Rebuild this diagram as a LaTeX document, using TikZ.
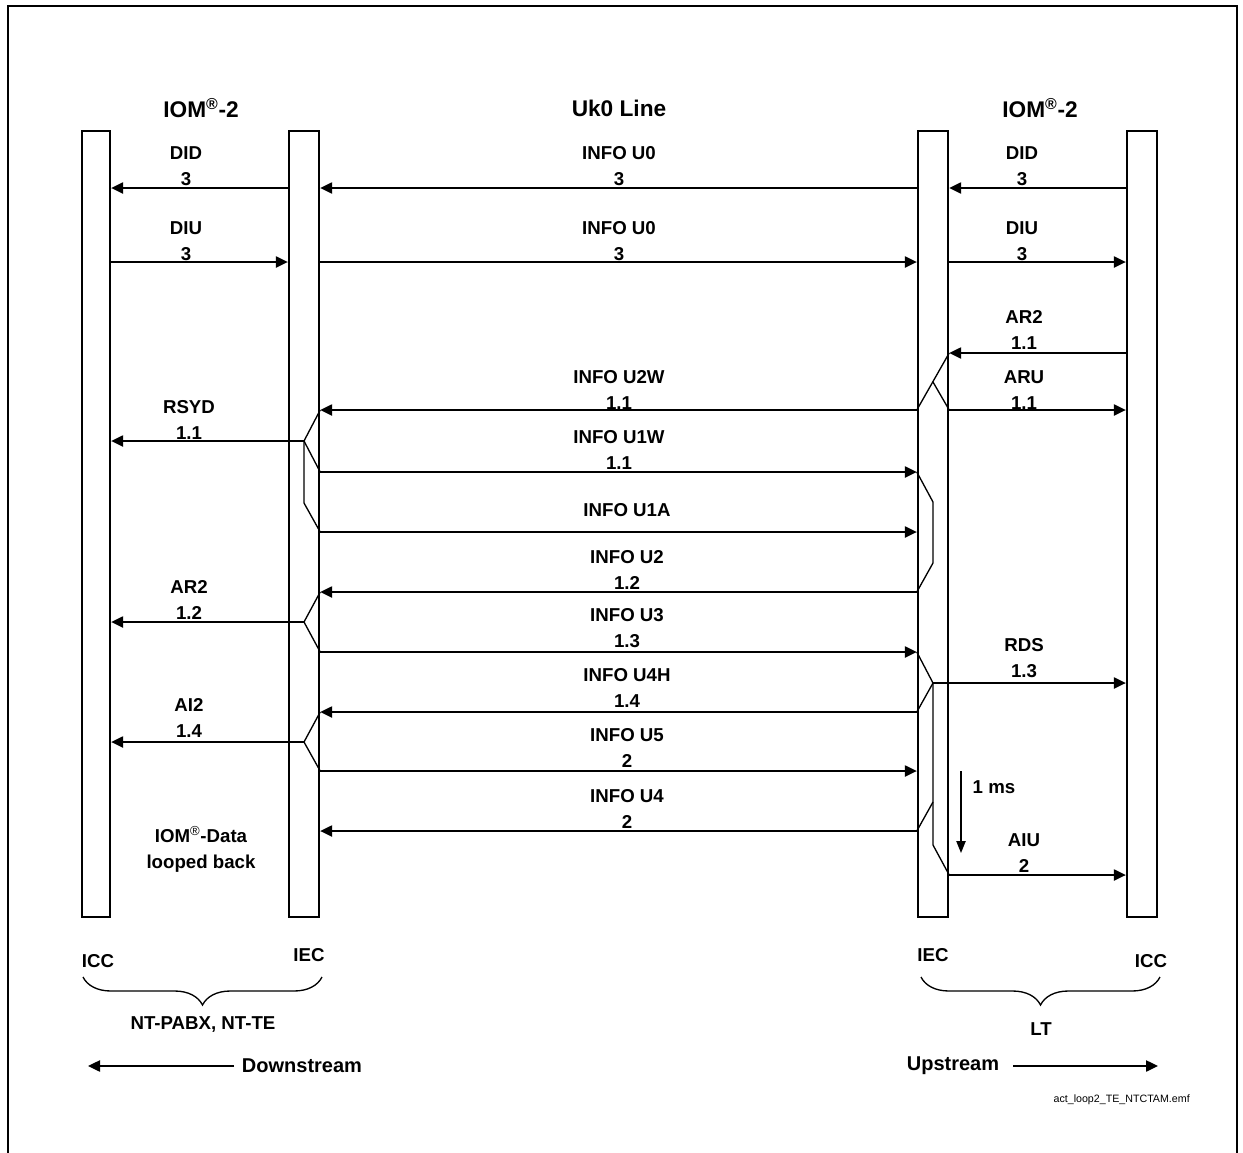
\documentclass[tikz,border=0pt]{standalone}
\usepackage{fontspec}
\setmainfont{Liberation Sans}
\usetikzlibrary{arrows.meta,decorations.pathreplacing,fit}
\begin{document}
\begin{tikzpicture}[x=0.75pt,y=-0.75pt,
  bar/.style={draw, line width=1.8pt, inner sep=0pt},
  arr/.style={line width=1pt, -{Triangle[length=9pt,width=8.5pt]}},
  ln/.style={line width=1pt},
  lbl/.style={font=\fontsize{14}{19.5}\selectfont\bfseries, align=center, inner sep=0pt},
  dir/.style={font=\fontsize{15}{18}\selectfont\bfseries, inner sep=0pt},
  hdr/.style={font=\fontsize{17}{20}\selectfont\bfseries, inner sep=0pt},
  brc/.style={line width=1pt, decorate, decoration={brace, mirror, amplitude=21pt}},
  fname/.style={font=\fontsize{8}{9}\selectfont, inner sep=0pt, anchor=east}
]
\useasboundingbox (0,0) rectangle (1243,1153);
% frame
\draw[line width=1.5pt] (8,1153) -- (8,6) -- (1237,6) -- (1237,1153);

% headers
\node[hdr] (h1) at (201,108) {IOM\textsuperscript{®}-2};
\node[hdr] (h2) at (619,108) {Uk0 Line};
\node[hdr] (h3) at (1040,108) {IOM\textsuperscript{®}-2};

% bars
\node[bar, fit={(82,131)(110,917)}] (b1) {};
\node[bar, fit={(289,131)(319,917)}] (b2) {};
\node[bar, fit={(918,131)(948,917)}] (b3) {};
\node[bar, fit={(1127,131)(1157,917)}] (b4) {};

% row 1
\draw[arr] (b2.west|-0,188) -- (b1.east|-0,188);
\draw[arr] (b3.west|-0,188) -- (b2.east|-0,188);
\draw[arr] (b4.west|-0,188) -- (b3.east|-0,188);
% row 2
\draw[arr] (b1.east|-0,262) -- (b2.west|-0,262);
\draw[arr] (b2.east|-0,262) -- (b3.west|-0,262);
\draw[arr] (b3.east|-0,262) -- (b4.west|-0,262);
% AR2 / ARU / INFO U2W
\draw[arr] (b4.west|-0,353) -- (b3.east|-0,353);
\draw[ln] (b3.east|-0,353) -- (b3.west|-0,410);
\draw[ln] (b3.center|-0,382) -- (b3.east|-0,410);
\draw[arr] (b3.west|-0,410) -- (b2.east|-0,410);
\draw[arr] (b3.east|-0,410) -- (b4.west|-0,410);
% RSYD, U1W, U1A
\draw[ln] (b2.east|-0,410) -- (b2.center|-0,441) -- (b2.east|-0,472);
\draw[ln] (b2.center|-0,441) -- (b2.center|-0,503) -- (b2.east|-0,532);
\draw[arr] (b2.center|-0,441) -- (b1.east|-0,441);
\draw[arr] (b2.east|-0,472) -- (b3.west|-0,472);
\draw[arr] (b2.east|-0,532) -- (b3.west|-0,532);
% U2
\draw[ln] (b3.west|-0,472) -- (b3.center|-0,502) -- (b3.center|-0,563) -- (b3.west|-0,592);
\draw[arr] (b3.west|-0,592) -- (b2.east|-0,592);
% AR2 1.2, U3
\draw[ln] (b2.east|-0,592) -- (b2.center|-0,622) -- (b2.east|-0,652);
\draw[arr] (b2.center|-0,622) -- (b1.east|-0,622);
\draw[arr] (b2.east|-0,652) -- (b3.west|-0,652);
% RDS, U4H
\draw[ln] (b3.west|-0,652) -- (b3.center|-0,683) -- (b3.west|-0,712);
\draw[arr] (b3.center|-0,683) -- (b4.west|-0,683);
\draw[arr] (b3.west|-0,712) -- (b2.east|-0,712);
% AI2, U5
\draw[ln] (b2.east|-0,712) -- (b2.center|-0,742) -- (b2.east|-0,771);
\draw[arr] (b2.center|-0,742) -- (b1.east|-0,742);
\draw[arr] (b2.east|-0,771) -- (b3.west|-0,771);
% U4, AIU
\draw[ln] (b3.center|-0,683) -- (b3.center|-0,845) -- (b3.east|-0,875);
\draw[arr] (b3.west|-0,831) -- (b2.east|-0,831);
\draw[ln] (b3.west|-0,831) -- (b3.center|-0,802);
\draw[arr] (b3.east|-0,875) -- (b4.west|-0,875);
% 1 ms
\coordinate (ms1) at (961,771);
\coordinate (ms2) at (961,853);
\draw[line width=1pt, -{Triangle[length=9pt,width=7pt]}] (ms1) -- (ms2);
\node[lbl] (msl) at (994,787) {1 ms};

% labels
\node[lbl] (l1) at (186,166) {DID\\3};
\node[lbl] (l2) at (619,166) {INFO U0\\3};
\node[lbl] (l3) at (1022,166) {DID\\3};
\node[lbl] (l4) at (186,241) {DIU\\3};
\node[lbl] (l5) at (619,241) {INFO U0\\3};
\node[lbl] (l6) at (1022,241) {DIU\\3};
\node[lbl] (l7) at (1024,330) {AR2\\1.1};
\node[lbl] (l8) at (619,390) {INFO U2W\\1.1};
\node[lbl] (l9) at (1024,390) {ARU\\1.1};
\node[lbl] (l10) at (189,420) {RSYD\\1.1};
\node[lbl] (l11) at (619,450) {INFO U1W\\1.1};
\node[lbl] (l12) at (627,510) {INFO U1A};
\node[lbl] (l13) at (627,570) {INFO U2\\1.2};
\node[lbl] (l14) at (189,600) {AR2\\1.2};
\node[lbl] (l15) at (627,628) {INFO U3\\1.3};
\node[lbl] (l16) at (1024,658) {RDS\\1.3};
\node[lbl] (l17) at (627,688) {INFO U4H\\1.4};
\node[lbl] (l18) at (189,718) {AI2\\1.4};
\node[lbl] (l19) at (627,748) {INFO U5\\2};
\node[lbl] (l20) at (627,809) {INFO U4\\2};
\node[lbl] (l21) at (1024,853) {AIU\\2};
\node[lbl] (l22) at (201,849) {IOM{\mdseries\textsuperscript{®}}-Data\\looped back};

% bottom
\node[lbl] (icc1) at (98,961) {ICC};
\node[lbl] (iec1) at (309,955) {IEC};
\node[lbl] (iec2) at (933,955) {IEC};
\node[lbl] (icc2) at (1151,961) {ICC};
\coordinate (bra1) at (83,977);
\coordinate (bra2) at (322,977);
\coordinate (brb1) at (921,977);
\coordinate (brb2) at (1160,977);
\draw[brc] (bra1) -- (bra2);
\draw[brc] (brb1) -- (brb2);
\node[lbl] (nt) at (203,1025) {NT-PABX, NT-TE};
\node[lbl] (lt) at (1041,1029) {LT};

\node[dir] (ds) at (302,1066) {Downstream};
\node[dir] (us) at (953,1066) {Upstream};
\coordinate (dsa) at (234,1066);
\coordinate (dsb) at (88,1066);
\coordinate (usa) at (1013,1066);
\coordinate (usb) at (1158,1066);
\draw[arr] (dsa) -- (dsb);
\draw[arr] (usa) -- (usb);

\node[fname] (fn) at (1190,1100) {act\_loop2\_TE\_NTCTAM.emf};
\end{tikzpicture}
\end{document}
